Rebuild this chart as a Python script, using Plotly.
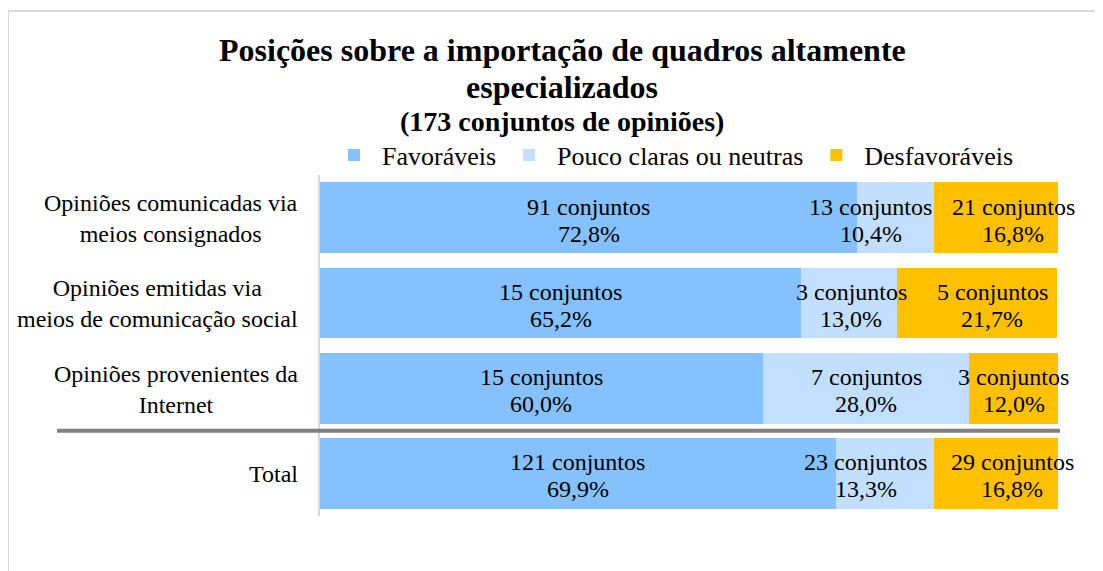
import plotly.graph_objects as go

categories = [
    "Opiniões comunicadas via<br>meios consignados",
    "Opiniões emitidas via<br>meios de comunicação social",
    "Opiniões provenientes da<br>Internet",
    "Total",
]
series_names = ["Favoráveis", "Pouco claras ou neutras", "Desfavoráveis"]
counts_fav = [91, 15, 15, 121]
counts_neu = [13, 3, 7, 23]
counts_des = [21, 5, 3, 29]
pct_fav = [72.8, 65.2, 60.0, 69.9]
pct_neu = [10.4, 13.0, 28.0, 13.3]
pct_des = [16.8, 21.7, 12.0, 16.8]
colors = ["#85C0FF", "#C2DFFF", "#FFC000"]
title_lines = ["Posições sobre a importação de quadros altamente", "especializados"]
subtitle = "(173 conjuntos de opiniões)"

FONT = "Liberation Serif"
OFF = 8  # page body margin
W, H = 1103 - OFF, 571 - OFF
ML, MR, MT, MB = 312, 45, 167, 55
PW = W - ML - MR
PH = H - MT - MB


def px(xpage):
    return (xpage - OFF - ML) / PW


def py(ypage):
    return (H - MB - (ypage - OFF)) / PH


ypos = list(range(len(categories)))[::-1]  # top to bottom

fig = go.Figure()
series = [(counts_fav, pct_fav), (counts_neu, pct_neu), (counts_des, pct_des)]
for name, (cnt, pct), col in zip(series_names, series, colors):
    fig.add_trace(go.Bar(
        y=ypos, x=pct, name=name, orientation="h",
        marker=dict(color=col, line=dict(width=0)),
        hoverinfo="skip",
    ))

# data labels (Excel nudges overlapping labels sideways)
nudges = [[0, -25, 17], [0, 2, 15], [0, 0, 0], [0, -19, 16]]
LBL = 24
annotations = []
for i in range(len(categories)):
    left = 0.0
    for s, (cnt, pct) in enumerate(series):
        mid = left + pct[i] / 2
        left += pct[i]
        for txt, ys in ((f"{cnt[i]} conjuntos", 11),
                        (f"{pct[i]:.1f}%".replace(".", ","), -16)):
            annotations.append(dict(
                x=mid, y=ypos[i], xref="x", yref="y", xanchor="center",
                text=txt, showarrow=False, xshift=nudges[i][s], yshift=ys,
                font=dict(family=FONT, size=LBL, color="#000000"),
            ))
    annotations.append(dict(
        x=0, y=ypos[i], xref="paper", yref="y", xanchor="right",
        xshift=-20, yshift=-1, text=categories[i], showarrow=False, align="center",
        font=dict(family=FONT, size=LBL, color="#000000"),
    ))

for txt, yc, fs in ((title_lines[0], 50, 32), (title_lines[1], 87, 32),
                    (subtitle, 122, 28)):
    annotations.append(dict(
        x=px(562), y=py(yc), xref="paper", yref="paper", xanchor="center",
        yanchor="middle", text=f"<b>{txt}</b>", showarrow=False,
        font=dict(family=FONT, size=fs, color="#000000"),
    ))

shapes = [
    # separator between detail rows and Total
    dict(type="line", xref="paper", yref="y",
         x0=px(57), x1=px(1060), y0=0.5, y1=0.5,
         line=dict(color="#7F7F7F", width=4)),
    # chart frame
    dict(type="rect", xref="paper", yref="paper",
         x0=px(8), x1=px(1115), y0=py(585), y1=py(11),
         line=dict(color="#D9D9D9", width=2), layer="below"),
]

fig.update_layout(
    width=W, height=H,
    barmode="stack", bargap=0.17,
    margin=dict(l=ML, r=MR, t=MT, b=MB),
    paper_bgcolor="#FFFFFF", plot_bgcolor="#FFFFFF",
    font=dict(family=FONT, color="#000000"),
    showlegend=True,
    legend=dict(orientation="h", x=px(326), xanchor="left",
                y=py(155), yanchor="middle",
                font=dict(family=FONT, size=26, color="#000000"),
                itemclick=False, itemdoubleclick=False, traceorder="normal",
                tracegroupgap=0, itemwidth=46),
    xaxis=dict(range=[0, 100], visible=False, fixedrange=True),
    yaxis=dict(range=[-0.5, 3.5], showticklabels=False, showgrid=False,
               zeroline=False, showline=True, linecolor="#D9D9D9", linewidth=2,
               ticks="", fixedrange=True),
    annotations=annotations, shapes=shapes,
)

fig.write_html("out.html")
